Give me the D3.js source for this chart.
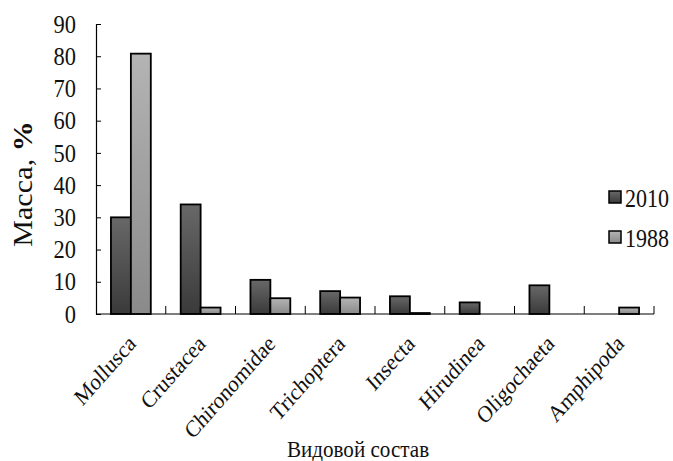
<!DOCTYPE html>
<html>
<head>
<meta charset="utf-8">
<script src="https://cdn.jsdelivr.net/npm/d3@7"></script>
<style>
  html, body { margin: 0; padding: 0; background: #fff; }
  svg { display: block; }
  text { font-family: "Liberation Serif", "Times New Roman", serif; fill: #111; }
</style>
</head>
<body>
<svg id="chart" width="673" height="461"></svg>
<script>
// Taxa and biomass share (%) for the two survey years
const categories = ["Mollusca", "Crustacea", "Chironomidae", "Trichoptera", "Insecta", "Hirudinea", "Oligochaeta", "Amphipoda"];
const values2010 = [30, 34, 10.6, 7.1, 5.5, 3.6, 8.9, 0];
const values1988 = [80.8, 2, 4.9, 5.1, 0.3, 0, 0, 2];
const seriesNames = ["2010", "1988"];
const yTicks = [0, 10, 20, 30, 40, 50, 60, 70, 80, 90];

const svg = d3.select("#chart");
const plotLeft = 96, plotRight = 654, plotTop = 24, plotBottom = 314;
const squeeze = 0.88; // narrow lettering

const x = d3.scaleBand().domain(categories).range([plotLeft, plotRight]).paddingInner(0).paddingOuter(0);
const y = d3.scaleLinear().domain([0, 90]).range([plotBottom, plotTop]);
const barW = x.bandwidth() / 3.5;
const inner = d3.scaleBand().domain(seriesNames).range([0, barW * 2]);

// Vertical shading for each series
const defs = svg.append("defs");
const grads = [
  { id: "g2010", c0: "#686868", c1: "#3a3a3a" },
  { id: "g1988", c0: "#b4b4b4", c1: "#8a8a8a" }
];
grads.forEach(g => {
  const lg = defs.append("linearGradient").attr("id", g.id)
    .attr("x1", 0).attr("y1", 0).attr("x2", 0).attr("y2", 1);
  lg.append("stop").attr("offset", "0%").attr("stop-color", g.c0);
  lg.append("stop").attr("offset", "100%").attr("stop-color", g.c1);
});

const series = [
  { name: "2010", values: values2010, fill: "url(#g2010)" },
  { name: "1988", values: values1988, fill: "url(#g1988)" }
];

// Bars
series.forEach(s => {
  svg.append("g").selectAll("rect")
    .data(categories.map((c, i) => ({ c, v: s.values[i] })).filter(d => d.v > 0))
    .join("rect")
    .attr("x", d => x(d.c) + x.bandwidth() / 2 - barW + inner(s.name))
    .attr("y", d => y(d.v))
    .attr("width", inner.bandwidth())
    .attr("height", d => y(0) - y(d.v))
    .attr("fill", s.fill)
    .attr("stroke", "#000")
    .attr("stroke-width", 1.8);
});

// Y axis with inward ticks
const yAxis = d3.axisLeft(y).tickValues(yTicks).tickSizeInner(-5).tickSizeOuter(0);
const gy = svg.append("g").attr("transform", `translate(${plotLeft},0)`).call(yAxis);
gy.select(".domain").attr("stroke", "#000").attr("stroke-width", 1.2);
gy.selectAll(".tick line").attr("stroke", "#000");
gy.selectAll(".tick text")
  .attr("x", 0)
  .attr("transform", `translate(-20,0) scale(${squeeze},1)`)
  .attr("font-size", 25.5).attr("font-family", "Liberation Serif").attr("fill", "#111");

// X axis: baseline and category dividers pointing up
svg.append("line").attr("x1", plotLeft).attr("x2", plotRight).attr("y1", plotBottom).attr("y2", plotBottom)
  .attr("stroke", "#000").attr("stroke-width", 1.2);
const dividers = categories.map(c => x(c) + x.bandwidth());
svg.append("g").selectAll("line").data(dividers).join("line")
  .attr("x1", d => d).attr("x2", d => d)
  .attr("y1", plotBottom).attr("y2", plotBottom - 8)
  .attr("stroke", "#000").attr("stroke-width", 1);

// Category labels, rotated
svg.append("g").selectAll("text").data(categories).join("text")
  .attr("transform", c => `translate(${x(c) + x.bandwidth() / 2 + 6},${plotBottom + 31}) scale(${squeeze},1) rotate(-45)`)
  .attr("text-anchor", "end")
  .attr("font-size", 23.5)
  .text(c => c);

// Axis titles
svg.append("text")
  .attr("transform", `translate(358,457) scale(${squeeze},1)`)
  .attr("text-anchor", "middle").attr("font-size", 24)
  .text("Видовой состав");

const yTitle = svg.append("text")
  .attr("transform", `translate(32,184) scale(${squeeze},1) rotate(-90)`)
  .attr("text-anchor", "middle").attr("font-size", 30);
yTitle.append("tspan").text("Масса, ");
yTitle.append("tspan").attr("font-weight", "bold").text("%");

// Legend
const legend = svg.append("g").attr("transform", "translate(609,191)");
series.forEach((s, i) => {
  const g = legend.append("g").attr("transform", `translate(0,${i * 40})`);
  g.append("rect").attr("width", 12).attr("height", 12)
    .attr("fill", s.fill).attr("stroke", "#000").attr("stroke-width", 1.5);
  g.append("text").attr("transform", `translate(16,16) scale(${squeeze},1)`)
    .attr("font-size", 25).text(s.name);
});
</script>
</body>
</html>
